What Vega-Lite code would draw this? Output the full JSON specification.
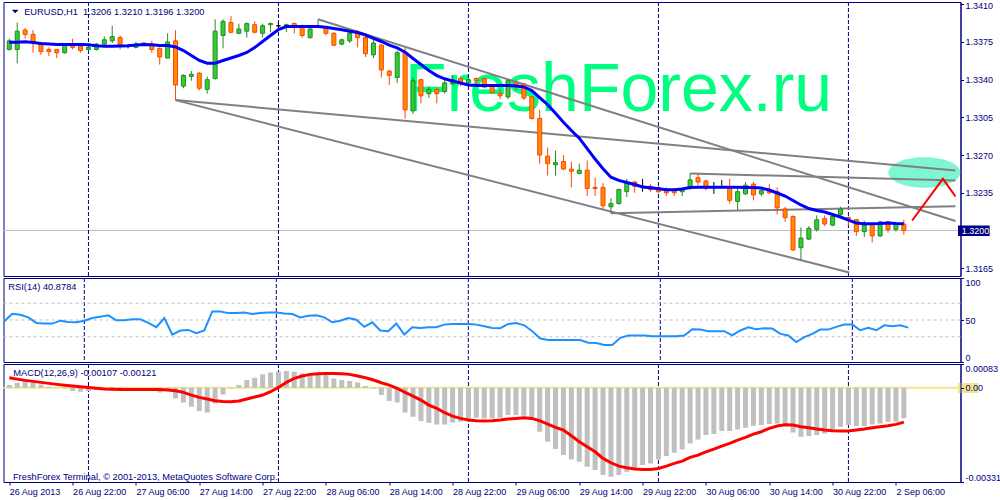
{
"$schema": "https://vega.github.io/schema/vega-lite/v6.json",
"padding": {"left": 1.5, "top": 0, "right": 0, "bottom": 0},
"bounds": "flush",
"spacing": 2,
"background": "white",
"config": {
  "view": {"stroke": "#000080", "strokeWidth": 1},
  "axis": {"labelFont": "Liberation Sans", "labelFontSize": 9, "labelColor": "#000080", "domainColor": "#000080", "tickColor": "#000080", "tickSize": 3, "grid": false, "labelPadding": 1.5, "titleOpacity": 0},
  "text": {"font": "Liberation Sans"}
},
"datasets": {
  "one": [{"k": 1}],
  "seps": [{"i":10},{"i":34},{"i":58},{"i":82},{"i":106}],
  "levels": [{"v":30},{"v":50},{"v":70}],
  "tl": [
    {"id":"a","i":39,"p":1.3396},{"id":"a","i":119.525,"p":1.320877},
    {"id":"b","i":21,"p":1.3321},{"id":"b","i":119.525,"p":1.325575},
    {"id":"c","i":21,"p":1.3321},{"id":"c","i":106.1,"p":1.3161},
    {"id":"d","i":86,"p":1.3253},{"id":"d","i":119.525,"p":1.324636},
    {"id":"e","i":76,"p":1.3216},{"id":"e","i":119.525,"p":1.322258}
  ],
  "arrow": [{"i":114.05,"p":1.320928},{"i":117.93,"p":1.324798},{"i":119.525,"p":1.323155}],
  "bars": [
{"i":0,"o":1.3368,"h":1.3378,"l":1.3367,"c":1.3376,"ma":1.33747,"rsi":48.4,"m":0.000091,"s":0.000349},
{"i":1,"o":1.3368,"h":1.3393,"l":1.3355,"c":1.3385,"ma":1.33747,"rsi":57.4,"m":0.000173,"s":0.0003},
{"i":2,"o":1.3386,"h":1.3388,"l":1.3378,"c":1.3382,"ma":1.33751,"rsi":56.3,"m":0.000232,"s":0.000255},
{"i":3,"o":1.3382,"h":1.3386,"l":1.3365,"c":1.3375,"ma":1.33745,"rsi":53.1,"m":0.000185,"s":0.00022},
{"i":4,"o":1.3374,"h":1.3375,"l":1.3363,"c":1.3366,"ma":1.33735,"rsi":46.5,"m":0.000115,"s":0.000185},
{"i":5,"o":1.3368,"h":1.337,"l":1.3362,"c":1.3366,"ma":1.33731,"rsi":45.7,"m":0.000033,"s":0.00015},
{"i":6,"o":1.3368,"h":1.3368,"l":1.336,"c":1.3365,"ma":1.33726,"rsi":45.7,"m":-0.00001,"s":0.000115},
{"i":7,"o":1.3365,"h":1.3373,"l":1.3364,"c":1.3372,"ma":1.33726,"rsi":49.2,"m":-0.000026,"s":0.000085},
{"i":8,"o":1.3373,"h":1.3378,"l":1.3368,"c":1.337,"ma":1.33726,"rsi":47.6,"m":-0.000119,"s":0.000056},
{"i":9,"o":1.3371,"h":1.3373,"l":1.3365,"c":1.3367,"ma":1.33726,"rsi":47.3,"m":-0.000143,"s":0.00003},
{"i":10,"o":1.3368,"h":1.3371,"l":1.3367,"c":1.337,"ma":1.33723,"rsi":49.2,"m":-0.000119,"s":0.000009},
{"i":11,"o":1.3368,"h":1.3374,"l":1.3367,"c":1.3373,"ma":1.33714,"rsi":52.4,"m":-0.000084,"s":-0.00002},
{"i":12,"o":1.3373,"h":1.338,"l":1.3371,"c":1.3377,"ma":1.3371,"rsi":53.9,"m":-0.000026,"s":-0.000049},
{"i":13,"o":1.3376,"h":1.339,"l":1.3374,"c":1.338,"ma":1.3371,"rsi":55.5,"m":0.000021,"s":-0.000058},
{"i":14,"o":1.3379,"h":1.3381,"l":1.3368,"c":1.3372,"ma":1.33712,"rsi":49.6,"m":0.000021,"s":-0.000061},
{"i":15,"o":1.3371,"h":1.3373,"l":1.3369,"c":1.3371,"ma":1.33714,"rsi":49.6,"m":-0.000026,"s":-0.000061},
{"i":16,"o":1.337,"h":1.3375,"l":1.3369,"c":1.3373,"ma":1.33721,"rsi":50.8,"m":-0.000014,"s":-0.000061},
{"i":17,"o":1.3374,"h":1.3375,"l":1.3371,"c":1.3372,"ma":1.33726,"rsi":50.8,"m":-0.000014,"s":-0.000061},
{"i":18,"o":1.3373,"h":1.3376,"l":1.3365,"c":1.3368,"ma":1.33723,"rsi":46.5,"m":-0.000026,"s":-0.000061},
{"i":19,"o":1.3369,"h":1.337,"l":1.3354,"c":1.3361,"ma":1.33717,"rsi":41.4,"m":-0.000166,"s":-0.000065},
{"i":20,"o":1.336,"h":1.3383,"l":1.336,"c":1.3375,"ma":1.33717,"rsi":52.4,"m":-0.000084,"s":-0.00008},
{"i":21,"o":1.3376,"h":1.3386,"l":1.3321,"c":1.3335,"ma":1.33703,"rsi":32.7,"m":-0.000377,"s":-0.000108},
{"i":22,"o":1.3334,"h":1.3345,"l":1.3332,"c":1.3344,"ma":1.3367,"rsi":37.5,"m":-0.000517,"s":-0.000166},
{"i":23,"o":1.3343,"h":1.3348,"l":1.3339,"c":1.3345,"ma":1.33624,"rsi":38.2,"m":-0.000669,"s":-0.00026},
{"i":24,"o":1.3346,"h":1.3347,"l":1.333,"c":1.3332,"ma":1.33578,"rsi":34.3,"m":-0.000821,"s":-0.000342},
{"i":25,"o":1.3331,"h":1.3343,"l":1.3327,"c":1.334,"ma":1.33553,"rsi":37.5,"m":-0.000868,"s":-0.0004},
{"i":26,"o":1.3341,"h":1.3396,"l":1.334,"c":1.3385,"ma":1.33553,"rsi":60.2,"m":-0.000552,"s":-0.000459},
{"i":27,"o":1.3381,"h":1.3396,"l":1.3369,"c":1.3394,"ma":1.33578,"rsi":60.2,"m":-0.000236,"s":-0.000482},
{"i":28,"o":1.3393,"h":1.3399,"l":1.3383,"c":1.3384,"ma":1.33601,"rsi":58.2,"m":-0.000026,"s":-0.000494},
{"i":29,"o":1.3383,"h":1.3392,"l":1.3382,"c":1.3387,"ma":1.33624,"rsi":58.2,"m":0.000091,"s":-0.00047},
{"i":30,"o":1.3385,"h":1.3393,"l":1.3379,"c":1.3392,"ma":1.33652,"rsi":59,"m":0.000267,"s":-0.0004},
{"i":31,"o":1.3391,"h":1.3394,"l":1.3383,"c":1.3384,"ma":1.33698,"rsi":57.1,"m":0.000349,"s":-0.00033},
{"i":32,"o":1.3383,"h":1.3392,"l":1.3379,"c":1.339,"ma":1.33754,"rsi":58.2,"m":0.000466,"s":-0.00026},
{"i":33,"o":1.3391,"h":1.3393,"l":1.3384,"c":1.3392,"ma":1.3381,"rsi":59,"m":0.000536,"s":-0.000143},
{"i":34,"o":1.339,"h":1.3393,"l":1.3387,"c":1.339,"ma":1.33865,"rsi":59,"m":0.000559,"s":0.000009},
{"i":35,"o":1.3389,"h":1.3392,"l":1.3384,"c":1.3391,"ma":1.33893,"rsi":57.8,"m":0.000583,"s":0.000185},
{"i":36,"o":1.3392,"h":1.3393,"l":1.3383,"c":1.339,"ma":1.33893,"rsi":57.1,"m":0.000559,"s":0.000325},
{"i":37,"o":1.3389,"h":1.3391,"l":1.3379,"c":1.3381,"ma":1.33893,"rsi":53.1,"m":0.000501,"s":0.000407},
{"i":38,"o":1.3379,"h":1.3389,"l":1.3378,"c":1.3387,"ma":1.33893,"rsi":55.1,"m":0.000466,"s":0.000466},
{"i":39,"o":1.3389,"h":1.3396,"l":1.3388,"c":1.339,"ma":1.33893,"rsi":55.5,"m":0.000466,"s":0.000489},
{"i":40,"o":1.3388,"h":1.3389,"l":1.3381,"c":1.3383,"ma":1.33887,"rsi":53.1,"m":0.000442,"s":0.000501},
{"i":41,"o":1.3383,"h":1.3384,"l":1.3371,"c":1.3372,"ma":1.33875,"rsi":47.3,"m":0.000325,"s":0.000501},
{"i":42,"o":1.3373,"h":1.3378,"l":1.3372,"c":1.3377,"ma":1.33863,"rsi":49.2,"m":0.000267,"s":0.000489},
{"i":43,"o":1.3376,"h":1.3385,"l":1.3374,"c":1.3383,"ma":1.3385,"rsi":52.4,"m":0.000232,"s":0.000466},
{"i":44,"o":1.3383,"h":1.3386,"l":1.337,"c":1.3379,"ma":1.33837,"rsi":50.4,"m":0.000185,"s":0.000407},
{"i":45,"o":1.3379,"h":1.338,"l":1.3361,"c":1.3364,"ma":1.33814,"rsi":41.8,"m":0.000056,"s":0.000349},
{"i":46,"o":1.3363,"h":1.3377,"l":1.336,"c":1.3374,"ma":1.33782,"rsi":47.3,"m":-0.000026,"s":0.000267},
{"i":47,"o":1.3372,"h":1.3373,"l":1.3342,"c":1.3349,"ma":1.33754,"rsi":37.5,"m":-0.00026,"s":0.000173},
{"i":48,"o":1.3348,"h":1.3349,"l":1.3335,"c":1.3344,"ma":1.33721,"rsi":36.7,"m":-0.00047,"s":0.000091},
{"i":49,"o":1.3342,"h":1.3367,"l":1.3337,"c":1.3365,"ma":1.33694,"rsi":45.7,"m":-0.000517,"s":-0.000026},
{"i":50,"o":1.3365,"h":1.337,"l":1.3304,"c":1.3312,"ma":1.33655,"rsi":32.7,"m":-0.000868,"s":-0.000166},
{"i":51,"o":1.3311,"h":1.3342,"l":1.3308,"c":1.3339,"ma":1.33596,"rsi":41.4,"m":-0.00102,"s":-0.000295},
{"i":52,"o":1.334,"h":1.3341,"l":1.3318,"c":1.3325,"ma":1.33541,"rsi":40.6,"m":-0.001172,"s":-0.000435},
{"i":53,"o":1.3327,"h":1.3334,"l":1.3323,"c":1.3331,"ma":1.33485,"rsi":41.4,"m":-0.001231,"s":-0.000611},
{"i":54,"o":1.3331,"h":1.3333,"l":1.3318,"c":1.3327,"ma":1.33438,"rsi":41.4,"m":-0.001289,"s":-0.000728},
{"i":55,"o":1.3329,"h":1.3342,"l":1.3327,"c":1.3337,"ma":1.33408,"rsi":44.5,"m":-0.001289,"s":-0.00088},
{"i":56,"o":1.3336,"h":1.3344,"l":1.3335,"c":1.334,"ma":1.33387,"rsi":45.3,"m":-0.001219,"s":-0.000997},
{"i":57,"o":1.3341,"h":1.3343,"l":1.3334,"c":1.3338,"ma":1.33369,"rsi":45.3,"m":-0.001196,"s":-0.001079},
{"i":58,"o":1.3337,"h":1.3342,"l":1.3336,"c":1.334,"ma":1.3335,"rsi":45.3,"m":-0.001137,"s":-0.001137},
{"i":59,"o":1.3341,"h":1.3342,"l":1.3335,"c":1.3339,"ma":1.33346,"rsi":44.5,"m":-0.001055,"s":-0.00116},
{"i":60,"o":1.3341,"h":1.3342,"l":1.3332,"c":1.3333,"ma":1.33346,"rsi":42.5,"m":-0.001079,"s":-0.001172},
{"i":61,"o":1.3334,"h":1.3336,"l":1.3327,"c":1.3328,"ma":1.33346,"rsi":40.6,"m":-0.001079,"s":-0.00116},
{"i":62,"o":1.3327,"h":1.3331,"l":1.3322,"c":1.3325,"ma":1.33346,"rsi":40.2,"m":-0.001055,"s":-0.001137},
{"i":63,"o":1.3324,"h":1.334,"l":1.3322,"c":1.3339,"ma":1.33346,"rsi":45.3,"m":-0.000962,"s":-0.001102},
{"i":64,"o":1.3337,"h":1.3338,"l":1.333,"c":1.3335,"ma":1.33341,"rsi":46.5,"m":-0.000962,"s":-0.001079},
{"i":65,"o":1.3336,"h":1.3337,"l":1.3321,"c":1.3323,"ma":1.33332,"rsi":43.7,"m":-0.000985,"s":-0.001055},
{"i":66,"o":1.3324,"h":1.3325,"l":1.3303,"c":1.3304,"ma":1.33299,"rsi":36.7,"m":-0.001137,"s":-0.001079},
{"i":67,"o":1.3304,"h":1.3312,"l":1.3262,"c":1.327,"ma":1.33234,"rsi":28,"m":-0.001547,"s":-0.00116},
{"i":68,"o":1.3269,"h":1.3277,"l":1.3251,"c":1.3262,"ma":1.33168,"rsi":26.1,"m":-0.001898,"s":-0.001278},
{"i":69,"o":1.3261,"h":1.3274,"l":1.3251,"c":1.3263,"ma":1.33088,"rsi":26.1,"m":-0.002155,"s":-0.001395},
{"i":70,"o":1.3264,"h":1.327,"l":1.3256,"c":1.3257,"ma":1.33005,"rsi":26.1,"m":-0.002366,"s":-0.001488},
{"i":71,"o":1.3257,"h":1.3264,"l":1.324,"c":1.3255,"ma":1.32928,"rsi":26.1,"m":-0.002518,"s":-0.001687},
{"i":72,"o":1.3253,"h":1.3262,"l":1.3252,"c":1.3256,"ma":1.32857,"rsi":26.1,"m":-0.0026,"s":-0.001898},
{"i":73,"o":1.3256,"h":1.3265,"l":1.3232,"c":1.3239,"ma":1.32759,"rsi":23,"m":-0.002775,"s":-0.002073},
{"i":74,"o":1.324,"h":1.3249,"l":1.3232,"c":1.3239,"ma":1.32663,"rsi":22.6,"m":-0.002892,"s":-0.00225},
{"i":75,"o":1.324,"h":1.3244,"l":1.322,"c":1.3223,"ma":1.32573,"rsi":20.2,"m":-0.003068,"s":-0.002483},
{"i":76,"o":1.3222,"h":1.323,"l":1.3216,"c":1.3225,"ma":1.32495,"rsi":20.2,"m":-0.003126,"s":-0.002635},
{"i":77,"o":1.3225,"h":1.3239,"l":1.3224,"c":1.3238,"ma":1.32465,"rsi":28.8,"m":-0.003068,"s":-0.002752},
{"i":78,"o":1.3236,"h":1.3248,"l":1.3231,"c":1.3244,"ma":1.32445,"rsi":31.6,"m":-0.002951,"s":-0.00281},
{"i":79,"o":1.3245,"h":1.3246,"l":1.3235,"c":1.3241,"ma":1.32427,"rsi":31.6,"m":-0.002834,"s":-0.002857},
{"i":80,"o":1.3241,"h":1.3248,"l":1.3236,"c":1.3241,"ma":1.32404,"rsi":31.6,"m":-0.002717,"s":-0.002869},
{"i":81,"o":1.3241,"h":1.3243,"l":1.3236,"c":1.3238,"ma":1.32397,"rsi":30.8,"m":-0.002658,"s":-0.002869},
{"i":82,"o":1.324,"h":1.3241,"l":1.3235,"c":1.3236,"ma":1.32387,"rsi":30.8,"m":-0.002518,"s":-0.002834},
{"i":83,"o":1.3238,"h":1.324,"l":1.3232,"c":1.3235,"ma":1.32378,"rsi":30.8,"m":-0.002401,"s":-0.002752},
{"i":84,"o":1.3237,"h":1.3239,"l":1.3232,"c":1.3235,"ma":1.32378,"rsi":30.8,"m":-0.002284,"s":-0.002658},
{"i":85,"o":1.3236,"h":1.324,"l":1.3232,"c":1.3238,"ma":1.32385,"rsi":31.6,"m":-0.002167,"s":-0.002576},
{"i":86,"o":1.3239,"h":1.3253,"l":1.3238,"c":1.3247,"ma":1.32399,"rsi":39,"m":-0.001956,"s":-0.002448},
{"i":87,"o":1.3249,"h":1.3253,"l":1.3242,"c":1.3245,"ma":1.32402,"rsi":38.6,"m":-0.001816,"s":-0.002366},
{"i":88,"o":1.3246,"h":1.3247,"l":1.3237,"c":1.3239,"ma":1.32402,"rsi":36.7,"m":-0.001664,"s":-0.00225},
{"i":89,"o":1.324,"h":1.3245,"l":1.3234,"c":1.324,"ma":1.32402,"rsi":36.7,"m":-0.001629,"s":-0.002155},
{"i":90,"o":1.324,"h":1.3247,"l":1.3239,"c":1.324,"ma":1.32402,"rsi":36.7,"m":-0.001523,"s":-0.002051},
{"i":91,"o":1.324,"h":1.3248,"l":1.3225,"c":1.3228,"ma":1.32402,"rsi":31.6,"m":-0.001523,"s":-0.001956},
{"i":92,"o":1.3227,"h":1.3239,"l":1.3219,"c":1.3236,"ma":1.32402,"rsi":37.5,"m":-0.001465,"s":-0.001839},
{"i":93,"o":1.3234,"h":1.3245,"l":1.3233,"c":1.3242,"ma":1.32399,"rsi":41.4,"m":-0.001406,"s":-0.001746},
{"i":94,"o":1.3243,"h":1.3245,"l":1.3228,"c":1.3233,"ma":1.32399,"rsi":39,"m":-0.001336,"s":-0.001629},
{"i":95,"o":1.3234,"h":1.324,"l":1.3232,"c":1.3237,"ma":1.32394,"rsi":40.2,"m":-0.001313,"s":-0.001547},
{"i":96,"o":1.3238,"h":1.3243,"l":1.3234,"c":1.3235,"ma":1.32376,"rsi":39.8,"m":-0.001278,"s":-0.00143},
{"i":97,"o":1.3236,"h":1.324,"l":1.3215,"c":1.3221,"ma":1.32348,"rsi":33.5,"m":-0.001254,"s":-0.001348},
{"i":98,"o":1.322,"h":1.3222,"l":1.3208,"c":1.3212,"ma":1.3232,"rsi":31.6,"m":-0.001278,"s":-0.001301},
{"i":99,"o":1.3213,"h":1.3214,"l":1.3181,"c":1.3182,"ma":1.32278,"rsi":23.7,"m":-0.00157,"s":-0.001313},
{"i":100,"o":1.3184,"h":1.3203,"l":1.3172,"c":1.3193,"ma":1.32237,"rsi":29.6,"m":-0.001722,"s":-0.001371},
{"i":101,"o":1.3192,"h":1.3204,"l":1.3191,"c":1.3202,"ma":1.32204,"rsi":33.5,"m":-0.001698,"s":-0.001406},
{"i":102,"o":1.3201,"h":1.3214,"l":1.3199,"c":1.321,"ma":1.32186,"rsi":38.6,"m":-0.001664,"s":-0.001453},
{"i":103,"o":1.3211,"h":1.3214,"l":1.3204,"c":1.3206,"ma":1.32172,"rsi":38.6,"m":-0.001605,"s":-0.001488},
{"i":104,"o":1.3205,"h":1.3215,"l":1.3204,"c":1.3213,"ma":1.32149,"rsi":41.8,"m":-0.001465,"s":-0.001512},
{"i":105,"o":1.3215,"h":1.3222,"l":1.3214,"c":1.322,"ma":1.32125,"rsi":44.5,"m":-0.001371,"s":-0.001523},
{"i":106,"o":1.3212,"h":1.3213,"l":1.3205,"c":1.3211,"ma":1.32097,"rsi":44.5,"m":-0.001313,"s":-0.001523},
{"i":107,"o":1.321,"h":1.3211,"l":1.3195,"c":1.3199,"ma":1.3207,"rsi":37.8,"m":-0.001348,"s":-0.001488},
{"i":108,"o":1.3199,"h":1.3209,"l":1.3194,"c":1.3205,"ma":1.32062,"rsi":40.6,"m":-0.001348,"s":-0.001453},
{"i":109,"o":1.3206,"h":1.3207,"l":1.3189,"c":1.3195,"ma":1.32062,"rsi":37.8,"m":-0.00129,"s":-0.001406},
{"i":110,"o":1.3195,"h":1.3209,"l":1.3194,"c":1.3208,"ma":1.32065,"rsi":43.7,"m":-0.001254,"s":-0.001371},
{"i":111,"o":1.3208,"h":1.3209,"l":1.3198,"c":1.3201,"ma":1.3207,"rsi":42.5,"m":-0.001196,"s":-0.001336},
{"i":112,"o":1.3201,"h":1.3208,"l":1.3199,"c":1.3206,"ma":1.32065,"rsi":43.7,"m":-0.001196,"s":-0.001289},
{"i":113,"o":1.3206,"h":1.321,"l":1.3196,"c":1.32,"ma":1.32062,"rsi":40.9,"m":-0.00107,"s":-0.00121}
  ]
},
"vconcat": [
{
  "width": 957, "height": 274,
  "layer": [
    {"data": {"name": "bars"}, "mark": {"type": "rule", "opacity": 0, "clip": true},
     "encoding": {"x": {"field": "i", "type": "quantitative", "scale": {"domain": [-0.1, 119.525], "nice": false, "zero": false},
                        "axis": {"title": null, "labels": false, "ticks": false, "domain": false, "grid": false}},
                  "y": {"field": "l", "type": "quantitative", "scale": {"domain": [1.315778, 1.341205], "nice": false, "zero": false},
                        "axis": {"orient": "right", "values": [1.3165, 1.3235, 1.327, 1.3305, 1.334, 1.3375, 1.341], "format": ".4f", "title": null, "labelFlush": 3, "labelFlushOffset": 3, "labelOverlap": false}},
                  "y2": {"field": "h"}}},
    {"data": {"name": "one"}, "mark": {"type": "rule", "color": "#C0C0C0", "strokeWidth": 1},
     "encoding": {"y": {"datum": 1.32, "type": "quantitative", "scale": {"domain": [1.315778, 1.341205], "nice": false, "zero": false}}}},
    {"data": {"name": "one"}, "mark": {"type": "text", "text": "FreshForex.ru", "align": "left", "baseline": "alphabetic", "fontSize": 68, "font": "Liberation Sans", "color": "#00FF80"},
     "encoding": {"x": {"datum": 50.0, "type": "quantitative", "scale": {"domain": [-0.1, 119.525], "nice": false, "zero": false}},
                  "y": {"datum": 1.33107, "type": "quantitative", "scale": {"domain": [1.315778, 1.341205], "nice": false, "zero": false}}}},
    {"data": {"name": "one"}, "mark": {"type": "point", "shape": "M-1,0C-1,-0.2347,-0.5523,-0.425,0,-0.425C0.5523,-0.425,1,-0.2347,1,0C1,0.2347,0.5523,0.425,0,0.425C-0.5523,0.425,-1,0.2347,-1,0Z", "size": 5184, "filled": true, "color": "#7FF5D4", "opacity": 1, "clip": true},
     "encoding": {"x": {"datum": 115.59, "type": "quantitative", "scale": {"domain": [-0.1, 119.525], "nice": false, "zero": false}},
                  "y": {"datum": 1.32538, "type": "quantitative", "scale": {"domain": [1.315778, 1.341205], "nice": false, "zero": false}}}},
    {"data": {"name": "seps"}, "mark": {"type": "rule", "color": "#000080", "strokeDash": [4, 2], "strokeWidth": 1},
     "encoding": {"x": {"field": "i", "type": "quantitative", "scale": {"domain": [-0.1, 119.525], "nice": false, "zero": false}}}},
    {"data": {"name": "tl"}, "mark": {"type": "line", "color": "#808080", "strokeWidth": 2, "clip": true},
     "encoding": {"x": {"field": "i", "type": "quantitative", "scale": {"domain": [-0.1, 119.525], "nice": false, "zero": false}},
                  "y": {"field": "p", "type": "quantitative", "scale": {"domain": [1.315778, 1.341205], "nice": false, "zero": false}},
                  "detail": {"field": "id"}}},
    {"data": {"name": "arrow"}, "mark": {"type": "line", "color": "#FF0000", "strokeWidth": 2, "clip": true},
     "encoding": {"x": {"field": "i", "type": "quantitative", "scale": {"domain": [-0.1, 119.525], "nice": false, "zero": false}},
                  "y": {"field": "p", "type": "quantitative", "scale": {"domain": [1.315778, 1.341205], "nice": false, "zero": false}}}},
    {"data": {"name": "bars"}, "mark": {"type": "rule", "strokeWidth": 1, "clip": true},
     "encoding": {"x": {"field": "i", "type": "quantitative", "scale": {"domain": [-0.1, 119.525], "nice": false, "zero": false}},
                  "y": {"field": "l", "type": "quantitative", "scale": {"domain": [1.315778, 1.341205], "nice": false, "zero": false}},
                  "y2": {"field": "h"},
                  "color": {"condition": [{"test": "datum.c > datum.o", "value": "#228B22"}, {"test": "datum.c < datum.o", "value": "#FF4500"}], "value": "#000000"}}},
    {"data": {"name": "bars"}, "mark": {"type": "bar", "size": 4, "strokeWidth": 1, "clip": true},
     "encoding": {"x": {"field": "i", "type": "quantitative", "scale": {"domain": [-0.1, 119.525], "nice": false, "zero": false}},
                  "y": {"field": "o", "type": "quantitative", "scale": {"domain": [1.315778, 1.341205], "nice": false, "zero": false}},
                  "y2": {"field": "c"},
                  "fill": {"condition": [{"test": "datum.c > datum.o", "value": "#32CD32"}, {"test": "datum.c < datum.o", "value": "#FF8C00"}], "value": "#000000"},
                  "stroke": {"condition": [{"test": "datum.c > datum.o", "value": "#228B22"}, {"test": "datum.c < datum.o", "value": "#FF4500"}], "value": "#000000"}}},
    {"data": {"name": "bars"}, "mark": {"type": "line", "color": "#0000FF", "strokeWidth": 3, "clip": true},
     "encoding": {"x": {"field": "i", "type": "quantitative", "scale": {"domain": [-0.1, 119.525], "nice": false, "zero": false}},
                  "y": {"field": "ma", "type": "quantitative", "scale": {"domain": [1.315778, 1.341205], "nice": false, "zero": false}}}},
    {"data": {"name": "one"}, "mark": {"type": "point", "shape": "M-1,-0.5L1,-0.5L0,0.5Z", "size": 45, "filled": true, "color": "#000080", "opacity": 1},
     "encoding": {"x": {"datum": 0.75, "type": "quantitative", "scale": {"domain": [-0.1, 119.525], "nice": false, "zero": false}},
                  "y": {"datum": 1.340323, "type": "quantitative", "scale": {"domain": [1.315778, 1.341205], "nice": false, "zero": false}}}},
    {"data": {"name": "one"}, "mark": {"type": "text", "text": "EURUSD,H1\u00a0 1.3206 1.3210 1.3196 1.3200", "align": "left", "baseline": "alphabetic", "fontSize": 9.3, "color": "#000080"},
     "encoding": {"x": {"datum": 1.875, "type": "quantitative", "scale": {"domain": [-0.1, 119.525], "nice": false, "zero": false}},
                  "y": {"datum": 1.340045, "type": "quantitative", "scale": {"domain": [1.315778, 1.341205], "nice": false, "zero": false}}}},
    {"data": {"name": "one"}, "mark": {"type": "rect", "color": "#000080"},
     "encoding": {"x": {"datum": 119.84, "type": "quantitative", "scale": {"domain": [-0.1, 119.525], "nice": false, "zero": false}},
                  "x2": {"datum": 123.84},
                  "y": {"datum": 1.32046, "type": "quantitative", "scale": {"domain": [1.315778, 1.341205], "nice": false, "zero": false}},
                  "y2": {"datum": 1.31949}}},
    {"data": {"name": "one"}, "mark": {"type": "text", "text": "1.3200", "align": "left", "baseline": "middle", "fontSize": 9, "color": "#FFFFFF"},
     "encoding": {"x": {"datum": 120.3, "type": "quantitative", "scale": {"domain": [-0.1, 119.525], "nice": false, "zero": false}},
                  "y": {"datum": 1.32, "type": "quantitative", "scale": {"domain": [1.315778, 1.341205], "nice": false, "zero": false}}}}
  ]
},
{
  "width": 957, "height": 84,
  "layer": [
    {"data": {"name": "seps"}, "mark": {"type": "rule", "color": "#000080", "strokeDash": [4, 2], "strokeWidth": 1},
     "encoding": {"x": {"field": "i", "type": "quantitative", "scale": {"domain": [-0.1, 119.525], "nice": false, "zero": false},
                        "axis": {"title": null, "labels": false, "ticks": false, "domain": false, "grid": false}}}},
    {"data": {"name": "levels"}, "mark": {"type": "rule", "color": "#C0C0C0", "strokeDash": [3, 3], "strokeWidth": 1},
     "encoding": {"y": {"field": "v", "type": "quantitative", "scale": {"domain": [0, 100], "nice": false, "zero": false},
                        "axis": {"orient": "right", "values": [0, 30, 50, 70, 100], "title": null, "labelFlush": true, "labelOverlap": false}}}},
    {"data": {"name": "bars"}, "mark": {"type": "line", "color": "#1E90FF", "strokeWidth": 2, "clip": true},
     "encoding": {"x": {"field": "i", "type": "quantitative", "scale": {"domain": [-0.1, 119.525], "nice": false, "zero": false}},
                  "y": {"field": "rsi", "type": "quantitative", "scale": {"domain": [0, 100], "nice": false, "zero": false}}}},
    {"data": {"name": "one"}, "mark": {"type": "text", "text": "RSI(14) 40.8784", "align": "left", "baseline": "alphabetic", "fontSize": 9.3, "color": "#000080"},
     "encoding": {"x": {"datum": 0.5, "type": "quantitative", "scale": {"domain": [-0.1, 119.525], "nice": false, "zero": false}},
                  "y": {"datum": 85.5, "type": "quantitative", "scale": {"domain": [0, 100], "nice": false, "zero": false}}}}
  ]
},
{
  "width": 957, "height": 118,
  "layer": [
    {"data": {"name": "seps"}, "mark": {"type": "rule", "color": "#000080", "strokeDash": [4, 2], "strokeWidth": 1},
     "encoding": {"x": {"field": "i", "type": "quantitative", "scale": {"domain": [-0.1, 119.525], "nice": false, "zero": false},
                        "axis": {"values": [0, 8, 16, 24, 32, 40, 48, 56, 64, 72, 80, 88, 96, 104, 112],
                                 "labelExpr": "['26 Aug 2013','26 Aug 22:00','27 Aug 06:00','27 Aug 14:00','27 Aug 22:00','28 Aug 06:00','28 Aug 14:00','28 Aug 22:00','29 Aug 06:00','29 Aug 14:00','29 Aug 22:00','30 Aug 06:00','30 Aug 14:00','30 Aug 22:00','2 Sep 06:00'][round(datum.value/8)]",
                                 "labelAlign": "left", "labelBaseline": "top", "labelFlush": false, "labelOverlap": false, "labelPadding": 2, "domain": false, "title": null}}}},
    {"data": {"name": "one"}, "mark": {"type": "rule", "color": "#F0E68C", "strokeWidth": 2},
     "encoding": {"y": {"datum": 0, "type": "quantitative", "scale": {"domain": [-0.00331, 0.00083], "nice": false, "zero": false},
                        "axis": {"orient": "right", "values": [-0.00331, 0, 0.00083], "labelExpr": "datum.value > 0.0005 ? '0.00083' : (datum.value < -0.003 ? '-0.00331' : '0.00')", "title": null, "labelFlush": true, "labelOverlap": false, "zindex": 1}}}},
    {"data": {"name": "one"}, "mark": {"type": "rect", "color": "#F0E68C"},
     "encoding": {"x": {"datum": 119.84, "type": "quantitative", "scale": {"domain": [-0.1, 119.525], "nice": false, "zero": false}},
                  "x2": {"datum": 122.46},
                  "y": {"datum": 0.000163, "type": "quantitative", "scale": {"domain": [-0.00331, 0.00083], "nice": false, "zero": false}},
                  "y2": {"datum": -0.000187}}},
    {"data": {"name": "bars"}, "mark": {"type": "bar", "size": 5, "color": "#C0C0C0", "orient": "vertical", "clip": true},
     "encoding": {"x": {"field": "i", "type": "quantitative", "scale": {"domain": [-0.1, 119.525], "nice": false, "zero": false}},
                  "y": {"field": "m", "type": "quantitative", "scale": {"domain": [-0.00331, 0.00083], "nice": false, "zero": false}},
                  "y2": {"datum": 0}}},
    {"data": {"name": "bars"}, "mark": {"type": "line", "color": "#FF0000", "strokeWidth": 3, "clip": true},
     "encoding": {"x": {"field": "i", "type": "quantitative", "scale": {"domain": [-0.1, 119.525], "nice": false, "zero": false}},
                  "y": {"field": "s", "type": "quantitative", "scale": {"domain": [-0.00331, 0.00083], "nice": false, "zero": false}}}},
    {"data": {"name": "one"}, "mark": {"type": "text", "text": "MACD(12,26,9) -0.00107 -0.00121", "align": "left", "baseline": "alphabetic", "fontSize": 9.3, "color": "#000080"},
     "encoding": {"x": {"datum": 0.5, "type": "quantitative", "scale": {"domain": [-0.1, 119.525], "nice": false, "zero": false}},
                  "y": {"datum": 0.00041, "type": "quantitative", "scale": {"domain": [-0.00331, 0.00083], "nice": false, "zero": false}}}},
    {"data": {"name": "one"}, "mark": {"type": "text", "text": "FreshForex Terminal, © 2001-2013, MetaQuotes Software Corp.", "align": "left", "baseline": "alphabetic", "fontSize": 9.3, "color": "#000080"},
     "encoding": {"x": {"datum": 0.46, "type": "quantitative", "scale": {"domain": [-0.1, 119.525], "nice": false, "zero": false}},
                  "y": {"datum": -0.00324, "type": "quantitative", "scale": {"domain": [-0.00331, 0.00083], "nice": false, "zero": false}}}}
  ]
}
]
}
